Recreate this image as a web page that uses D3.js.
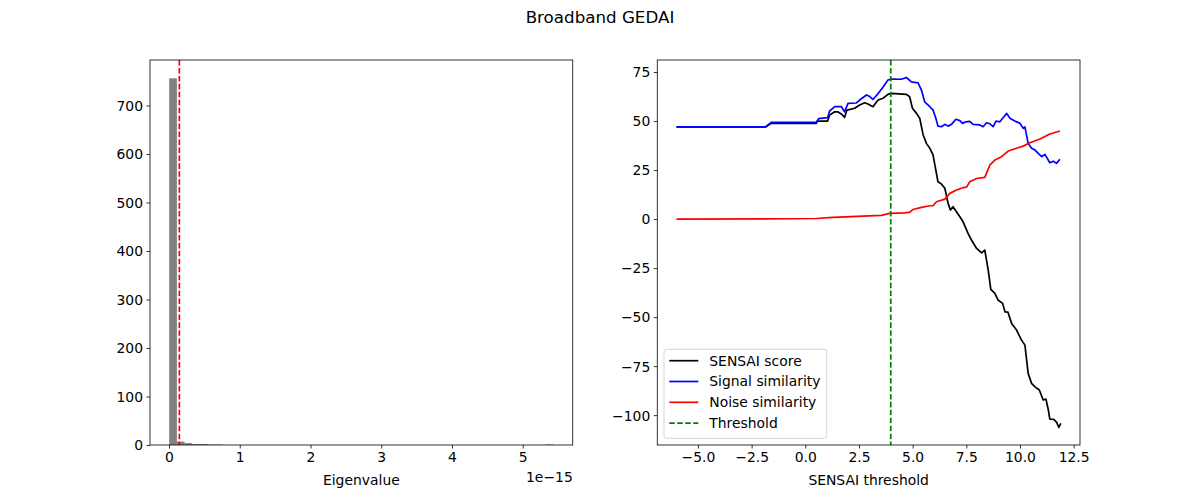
<!DOCTYPE html>
<html>
<head>
<meta charset="utf-8">
<script src="https://cdn.jsdelivr.net/npm/d3@7"></script>
<style>
body { margin: 0; background: white; }
text { font-family: "DejaVu Sans", sans-serif; fill: black; }
</style>
</head>
<body>
<svg id="fig"></svg>
<script>
// ---- data ----
// histogram of eigenvalues (units of 1e-15), 50 equal bins
var histLo = 0.003
var histHi = 5.435
var histCounts = [756, 7, 4, 2, 2, 1, 1, 0, 0, 0,
                  0, 0, 0, 0, 0, 0, 0, 0, 0, 0,
                  0, 0, 0, 0, 0, 0, 0, 0, 0, 0,
                  0, 0, 0, 0, 0, 0, 0, 0, 0, 0,
                  0, 0, 0, 0, 0, 0, 0, 0, 0, 1]
var eigCutoff = 0.146

// SENSAI curves, [threshold, value]
var scorePts = [[-6.0,47],[-1.85,47],[-1.59,48.8],[0.51,48.8],[0.57,50],[1.04,50],[1.13,53],[1.37,54.7],[1.51,54.7],
  [1.68,53.6],[1.83,51.9],[1.94,55.6],[2.3,56.5],[2.53,58.2],[2.77,59.3],[2.92,58.7],[3.15,57.3],[3.39,60.7],
  [3.62,61.6],[3.85,63.6],[4.01,64.1],[4.71,63.6],[4.86,62.4],[4.99,56.5],[5.18,53.9],[5.33,51.4],[5.49,42.9],
  [5.64,38.6],[5.8,36.1],[5.95,32.7],[6.08,25],[6.18,19],[6.34,17.9],[6.5,15.7],[6.65,8],[6.76,4.6],[6.88,6.3],
  [7.04,3.7],[7.2,1.2],[7.35,-1.4],[7.58,-7.3],[7.74,-10.7],[7.98,-15],[8.21,-17.2],[8.36,-15.8],[8.52,-26],
  [8.64,-35.9],[8.83,-37.9],[8.98,-41.3],[9.19,-43],[9.3,-47.3],[9.44,-47.5],[9.61,-53.2],[9.84,-56.6],
  [10.07,-61.7],[10.23,-64.3],[10.38,-78.7],[10.54,-83.8],[10.7,-85.6],[10.9,-87.2],[11.08,-92.3],[11.21,-91.8],
  [11.32,-97.4],[11.39,-102],[11.58,-102.2],[11.71,-103.7],[11.81,-106.3],[11.9,-104.2]]
var signalPts = [[-6.0,47],[-1.85,47],[-1.59,49.3],[0.51,49.3],[0.62,51.2],[1.04,51.7],[1.13,55],[1.37,57.3],
  [1.68,57.3],[1.83,54.7],[1.99,59],[2.38,59.2],[2.53,60.7],[2.85,63.3],[3.0,62.5],[3.15,61],[3.39,64],[3.6,67],
  [3.85,70.9],[4.01,71.4],[4.48,71.3],[4.71,72.2],[4.94,70],[5.25,69.5],[5.41,65.8],[5.56,59.8],[5.8,57.3],
  [5.95,55.6],[6.08,51.4],[6.18,47.4],[6.34,47.1],[6.5,48.3],[6.65,47.4],[6.81,48.3],[7.01,50.9],[7.2,50.2],
  [7.32,48.8],[7.48,49.6],[7.66,49.8],[7.82,48.3],[8.13,48],[8.28,47.1],[8.44,49.1],[8.6,48.6],[8.75,47.1],
  [8.88,50],[9.06,49.6],[9.25,52.2],[9.38,53.9],[9.53,51.4],[9.76,50],[10.0,48.8],[10.15,46.3],[10.23,47],
  [10.38,38.6],[10.54,36.1],[10.7,35.2],[10.85,33.5],[11.01,31.8],[11.16,33],[11.39,28.7],[11.55,29.5],
  [11.7,28.4],[11.86,30.5]]
var noisePts = [[-6.0,0],[-1.85,0.1],[0.51,0.3],[1.29,0.9],[3.54,1.9],[3.93,2.9],[4.63,3.2],[4.87,3.5],[5.02,4.9],
  [5.41,6],[5.8,6.8],[5.95,6.8],[6.11,8.8],[6.5,10.2],[6.73,13.1],[7.04,14.8],[7.35,16],[7.51,16.3],[7.66,19],
  [7.98,20.7],[8.36,21.3],[8.6,27.6],[8.83,30.1],[9.14,31.8],[9.45,34.7],[9.84,36.1],[10.15,37.2],[10.46,38.9],
  [10.93,40.8],[11.39,43.4],[11.86,44.9]]
var threshold = 3.98

var seriesNames = ["SENSAI score", "Signal similarity", "Noise similarity", "Threshold"]
var seriesColors = ["black", "#0000ff", "#ff0000", "#008000"]

var histXTicks = [0, 1, 2, 3, 4, 5]
var histYTicks = [0, 100, 200, 300, 400, 500, 600, 700]
var sensXTicks = [-5, -2.5, 0, 2.5, 5, 7.5, 10, 12.5]
var sensYTicks = [-100, -75, -50, -25, 0, 25, 50, 75]

// ---- layout ----
var svgw = 1200
var svgh = 500
var axTop = 60, axBottom = 445
var leftAx = {x0: 150, x1: 572.73}
var rightAx = {x0: 657.27, x1: 1080}
var tickFont = 13.9
var lw = 1.7

var svg = d3.select("#fig").attr("width", svgw).attr("height", svgh)

var padded = function(lo, hi)
{
    var m = (hi - lo) * 0.05
    return [lo - m, hi + m]
}

var drawAxesFrame = function(xs, ys, ax, xTicks, yTicks, xFmt, yFmt)
{
    var g = svg.append("g")
    var xAxis = d3.axisBottom(xs).tickValues(xTicks).tickFormat(xFmt).tickSizeOuter(0).tickSizeInner(3.5).tickPadding(3.5)
    var gx = g.append("g").attr("transform", "translate(0," + axBottom + ")").call(xAxis)
    var yAxis = d3.axisLeft(ys).tickValues(yTicks).tickFormat(yFmt).tickSizeOuter(0).tickSizeInner(3.5).tickPadding(3.5)
    var gy = g.append("g").attr("transform", "translate(" + ax.x0 + ",0)").call(yAxis)
    g.selectAll(".domain").remove()
    g.selectAll(".tick line").attr("stroke", "black").attr("stroke-width", 0.8)
    g.selectAll(".tick text").style("font-size", tickFont + "px").style("font-family", "DejaVu Sans")
    gy.selectAll(".tick text").attr("dy", "0.35em")
    gx.selectAll(".tick text").attr("dy", "0.75em")
    g.append("rect")
        .attr("x", ax.x0).attr("y", axTop)
        .attr("width", ax.x1 - ax.x0).attr("height", axBottom - axTop)
        .attr("fill", "none").attr("stroke", "black").attr("stroke-width", 0.8)
}

// ---- left: histogram ----
var binW = (histHi - histLo) / histCounts.length
var histX = d3.scaleLinear().domain(padded(histLo, histHi)).range([leftAx.x0, leftAx.x1])
var histY = d3.scaleLinear().domain([0, d3.max(histCounts) * 1.05]).range([axBottom, axTop])

svg.append("g").selectAll("rect")
    .data(histCounts)
    .enter()
    .append("rect")
    .attr("x", function(d, i) { return histX(histLo + i * binW) })
    .attr("width", function(d, i) { return histX(histLo + (i + 1) * binW) - histX(histLo + i * binW) })
    .attr("y", function(d) { return histY(d) })
    .attr("height", function(d) { return axBottom - histY(d) })
    .attr("fill", "#808080")

svg.append("line")
    .attr("x1", histX(eigCutoff)).attr("x2", histX(eigCutoff))
    .attr("y1", axTop).attr("y2", axBottom)
    .attr("stroke", "#ff0000").attr("stroke-width", lw)
    .attr("stroke-dasharray", "5.55,2.4")

drawAxesFrame(histX, histY, leftAx, histXTicks, histYTicks, d3.format("d"), d3.format("d"))

svg.append("text").text("Eigenvalue")
    .attr("x", (leftAx.x0 + leftAx.x1) / 2).attr("y", 485)
    .attr("text-anchor", "middle").style("font-size", tickFont + "px")
svg.append("text").text("1e\u221215")
    .attr("x", leftAx.x1).attr("y", 482)
    .attr("text-anchor", "end").style("font-size", tickFont + "px")

// ---- right: SENSAI curves ----
var allPts = scorePts.concat(signalPts, noisePts)
var sensX = d3.scaleLinear().domain(padded(d3.min(allPts, function(d) { return d[0] }), d3.max(allPts, function(d) { return d[0] })))
    .range([rightAx.x0, rightAx.x1])
var sensY = d3.scaleLinear().domain(padded(d3.min(allPts, function(d) { return d[1] }), d3.max(allPts, function(d) { return d[1] })))
    .range([axBottom, axTop])

var line = d3.line()
    .x(function(d) { return sensX(d[0]) })
    .y(function(d) { return sensY(d[1]) })

var curves = [scorePts, signalPts, noisePts]
curves.forEach(function(pts, i)
{
    svg.append("path")
        .attr("d", line(pts))
        .attr("fill", "none")
        .attr("stroke", seriesColors[i])
        .attr("stroke-width", lw)
        .attr("stroke-linejoin", "round")
})

svg.append("line")
    .attr("x1", sensX(threshold)).attr("x2", sensX(threshold))
    .attr("y1", axTop).attr("y2", axBottom)
    .attr("stroke", seriesColors[3]).attr("stroke-width", lw)
    .attr("stroke-dasharray", "5.55,2.4")

drawAxesFrame(sensX, sensY, rightAx, sensXTicks, sensYTicks, d3.format(".1f"), d3.format("d"))

svg.append("text").text("SENSAI threshold")
    .attr("x", (rightAx.x0 + rightAx.x1) / 2).attr("y", 485)
    .attr("text-anchor", "middle").style("font-size", tickFont + "px")

// legend
var legend = svg.append("g").attr("transform", "translate(664,349.3)")
legend.append("rect")
    .attr("width", 162.7).attr("height", 89)
    .attr("rx", 2.5).attr("ry", 2.5)
    .attr("fill", "white").attr("fill-opacity", 0.8)
    .attr("stroke", "#cccccc").attr("stroke-width", 0.8)

var entries = legend.selectAll("g.entry")
    .data(seriesNames)
    .enter()
    .append("g")
    .attr("class", "entry")
    .attr("transform", function(d, i) { return "translate(0," + (11.4 + i * 20.8) + ")" })

entries.append("line")
    .attr("x1", 5.3).attr("x2", 34.3)
    .attr("stroke", function(d, i) { return seriesColors[i] })
    .attr("stroke-width", lw)
    .attr("stroke-dasharray", function(d, i) { return i == 3 ? "5.55,2.4" : null })

entries.append("text")
    .text(function(d) { return d })
    .attr("x", 45.3).attr("dy", "0.35em")
    .style("font-size", tickFont + "px")

// title
svg.append("text").text("Broadband GEDAI")
    .attr("x", svgw / 2).attr("y", 23)
    .attr("text-anchor", "middle").style("font-size", "16.7px")
</script>
</body>
</html>
